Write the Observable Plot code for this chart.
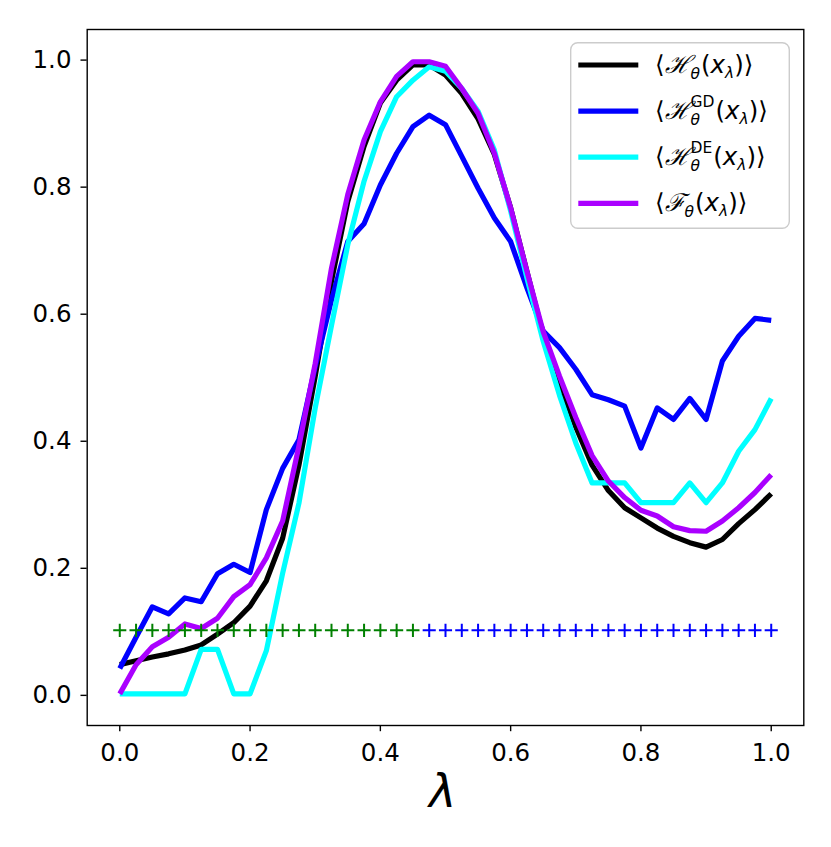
<!DOCTYPE html>
<html>
<head>
<meta charset="utf-8">
<script src="https://cdn.jsdelivr.net/npm/d3@7"></script>
<script src="https://cdn.jsdelivr.net/npm/@observablehq/plot@0.6"></script>
<style>
  html, body { margin: 0; padding: 0; background: white; }
</style>
</head>
<body>
<script>
// λ values (x axis)
const lambda = [0, 0.025, 0.05, 0.075, 0.1, 0.125, 0.15, 0.175, 0.2, 0.225,
  0.25, 0.275, 0.3, 0.325, 0.35, 0.375, 0.4, 0.425, 0.45, 0.475,
  0.5, 0.525, 0.55, 0.575, 0.6, 0.625, 0.65, 0.675, 0.7, 0.725,
  0.75, 0.775, 0.8, 0.825, 0.85, 0.875, 0.9, 0.925, 0.95, 0.975, 1.0];

// ⟨H_θ(x_λ)⟩  (black)
const H = [0.046, 0.052, 0.058, 0.063, 0.069, 0.077, 0.094, 0.112, 0.138, 0.178,
  0.245, 0.36, 0.50, 0.65, 0.775, 0.862, 0.93, 0.966, 0.99, 0.99,
  0.974, 0.945, 0.905, 0.849, 0.765, 0.665, 0.565, 0.49, 0.42, 0.36,
  0.32, 0.293, 0.277, 0.261, 0.248, 0.238, 0.231, 0.243, 0.268, 0.290, 0.315];

// ⟨H^GD_θ(x_λ)⟩  (blue)
const HGD = [0.040, 0.089, 0.137, 0.126, 0.151, 0.145, 0.189, 0.204, 0.191, 0.290,
  0.355, 0.400, 0.515, 0.62, 0.712, 0.740, 0.801, 0.851, 0.893, 0.911,
  0.896, 0.846, 0.796, 0.749, 0.712, 0.639, 0.571, 0.545, 0.511, 0.471,
  0.463, 0.453, 0.387, 0.450, 0.432, 0.465, 0.432, 0.524, 0.563, 0.591, 0.588];

// ⟨H^DE_θ(x_λ)⟩  (cyan)
const HDE = [0, 0, 0, 0, 0, 0.07, 0.07, 0, 0, 0.068,
  0.19, 0.30, 0.45, 0.58, 0.707, 0.807, 0.885, 0.94, 0.966, 0.987,
  0.98, 0.953, 0.917, 0.856, 0.76, 0.655, 0.555, 0.47, 0.395, 0.332,
  0.332, 0.332, 0.301, 0.301, 0.301, 0.332, 0.301, 0.332, 0.382, 0.416, 0.465];

// ⟨F_θ(x_λ)⟩  (purple)
const F = [0.0, 0.046, 0.074, 0.089, 0.110, 0.103, 0.119, 0.153, 0.172, 0.214,
  0.272, 0.39, 0.52, 0.67, 0.786, 0.872, 0.932, 0.972, 0.995, 0.995,
  0.988, 0.953, 0.914, 0.851, 0.765, 0.665, 0.57, 0.50, 0.435, 0.375,
  0.335, 0.309, 0.289, 0.280, 0.263, 0.257, 0.256, 0.272, 0.293, 0.317, 0.345];

// plus markers at level 0.1
const plusLevel = 0.1;
const plusGreenX = [0, 0.025, 0.05, 0.075, 0.1, 0.125, 0.15, 0.175, 0.2, 0.225,
  0.25, 0.275, 0.3, 0.325, 0.35, 0.375, 0.4, 0.425, 0.45];
const plusBlueX = [0.475, 0.5, 0.525, 0.55, 0.575, 0.6, 0.625, 0.65, 0.675, 0.7,
  0.725, 0.75, 0.775, 0.8, 0.825, 0.85, 0.875, 0.9, 0.925, 0.95, 0.975, 1.0];

const xTicks = [0, 0.2, 0.4, 0.6, 0.8, 1.0];
const yTicks = [0, 0.2, 0.4, 0.6, 0.8, 1.0];

const series = [
  {key: "H", values: H, color: "#000000", sym: "ℋ", sup: null},
  {key: "HGD", values: HGD, color: "#0000ff", sym: "ℋ", sup: "GD"},
  {key: "HDE", values: HDE, color: "#00ffff", sym: "ℋ", sup: "DE"},
  {key: "F", values: F, color: "#aa00ff", sym: "ℱ", sup: null}
];

const lineMarks = series.map(s =>
  Plot.line(lambda.map((x, i) => ({x, y: s.values[i]})), {
    x: "x", y: "y", stroke: s.color, strokeWidth: 5.2,
    strokeLinejoin: "round", strokeLinecap: "butt"
  })
);

const svg = Plot.plot({
  width: 831,
  height: 847,
  marginLeft: 86.7,
  marginRight: 27.7,
  marginTop: 29,
  marginBottom: 122,
  style: {fontFamily: "DejaVu Sans", fontSize: "24.5px", background: "white", color: "black"},
  x: {domain: [-0.05, 1.05]},
  y: {domain: [-0.0498, 1.0458]},
  marks: [
    ...lineMarks,
    Plot.dot(plusGreenX.map(x => ({x, y: plusLevel})), {
      x: "x", y: "y", symbol: "plus", r: 4.3, stroke: "#008000", strokeWidth: 2
    }),
    Plot.dot(plusBlueX.map(x => ({x, y: plusLevel})), {
      x: "x", y: "y", symbol: "plus", r: 4.3, stroke: "#0000ff", strokeWidth: 2
    }),
    Plot.frame({stroke: "black", strokeWidth: 1.4}),
    Plot.axisX({ticks: xTicks, tickFormat: d3.format(".1f"), tickSize: 6.2,
      tickPadding: 12.3, strokeWidth: 1.4, label: null, fontSize: 24.5}),
    Plot.axisY({ticks: yTicks, tickFormat: d3.format(".1f"), tickSize: 6.2,
      tickPadding: 9.5, strokeWidth: 1.4, label: null, fontSize: 24.5, dy: 1.5}),
    Plot.text(["λ"], {frameAnchor: "bottom", text: d => d, dy: 67, dx: -3,
      fontSize: 46, fontStyle: "italic", lineAnchor: "middle"})
  ]
});

document.body.append(svg);

// legend (inside the plot area, upper right)
const lg = d3.select(svg).append("g")
  .attr("font-family", "DejaVu Sans").attr("text-anchor", "start");
lg.append("rect")
  .attr("x", 570.7).attr("y", 42.7).attr("width", 218.6).attr("height", 185.6)
  .attr("rx", 7).attr("ry", 7)
  .attr("fill", "white").attr("fill-opacity", 0.8)
  .attr("stroke", "#cccccc").attr("stroke-width", 1.4);

const MAIN = 24.5, SUB = 15.5;
series.forEach((s, k) => {
  const cy = 65 + k * 46.1;
  lg.append("line")
    .attr("x1", 578.3).attr("x2", 638.3).attr("y1", cy).attr("y2", cy)
    .attr("stroke", s.color).attr("stroke-width", 5.2);
  const t = lg.append("text").attr("x", 655).attr("y", cy + 8)
    .attr("font-size", MAIN).attr("fill", "black").attr("text-anchor", "start");
  t.append("tspan").text("⟨");
  t.append("tspan").attr("font-family", "DejaVu Serif").attr("font-style", "italic").text(s.sym);
  const th = t.append("tspan").attr("font-style", "italic")
    .attr("font-size", SUB).attr("dy", 6).text("θ");
  if (s.sup) {
    const w = th.node().getComputedTextLength();
    t.append("tspan").attr("font-size", SUB).attr("dx", -w).attr("dy", -18).text(s.sup);
    t.append("tspan").attr("dy", 12).attr("dx", 1).text("(");
  } else {
    t.append("tspan").attr("dy", -6).attr("dx", 1).text("(");
  }
  t.append("tspan").attr("font-style", "italic").text("x");
  t.append("tspan").attr("font-style", "italic").attr("font-size", SUB).attr("dy", 5).text("λ");
  t.append("tspan").attr("dy", -5).text(")⟩");
});
</script>
</body>
</html>
